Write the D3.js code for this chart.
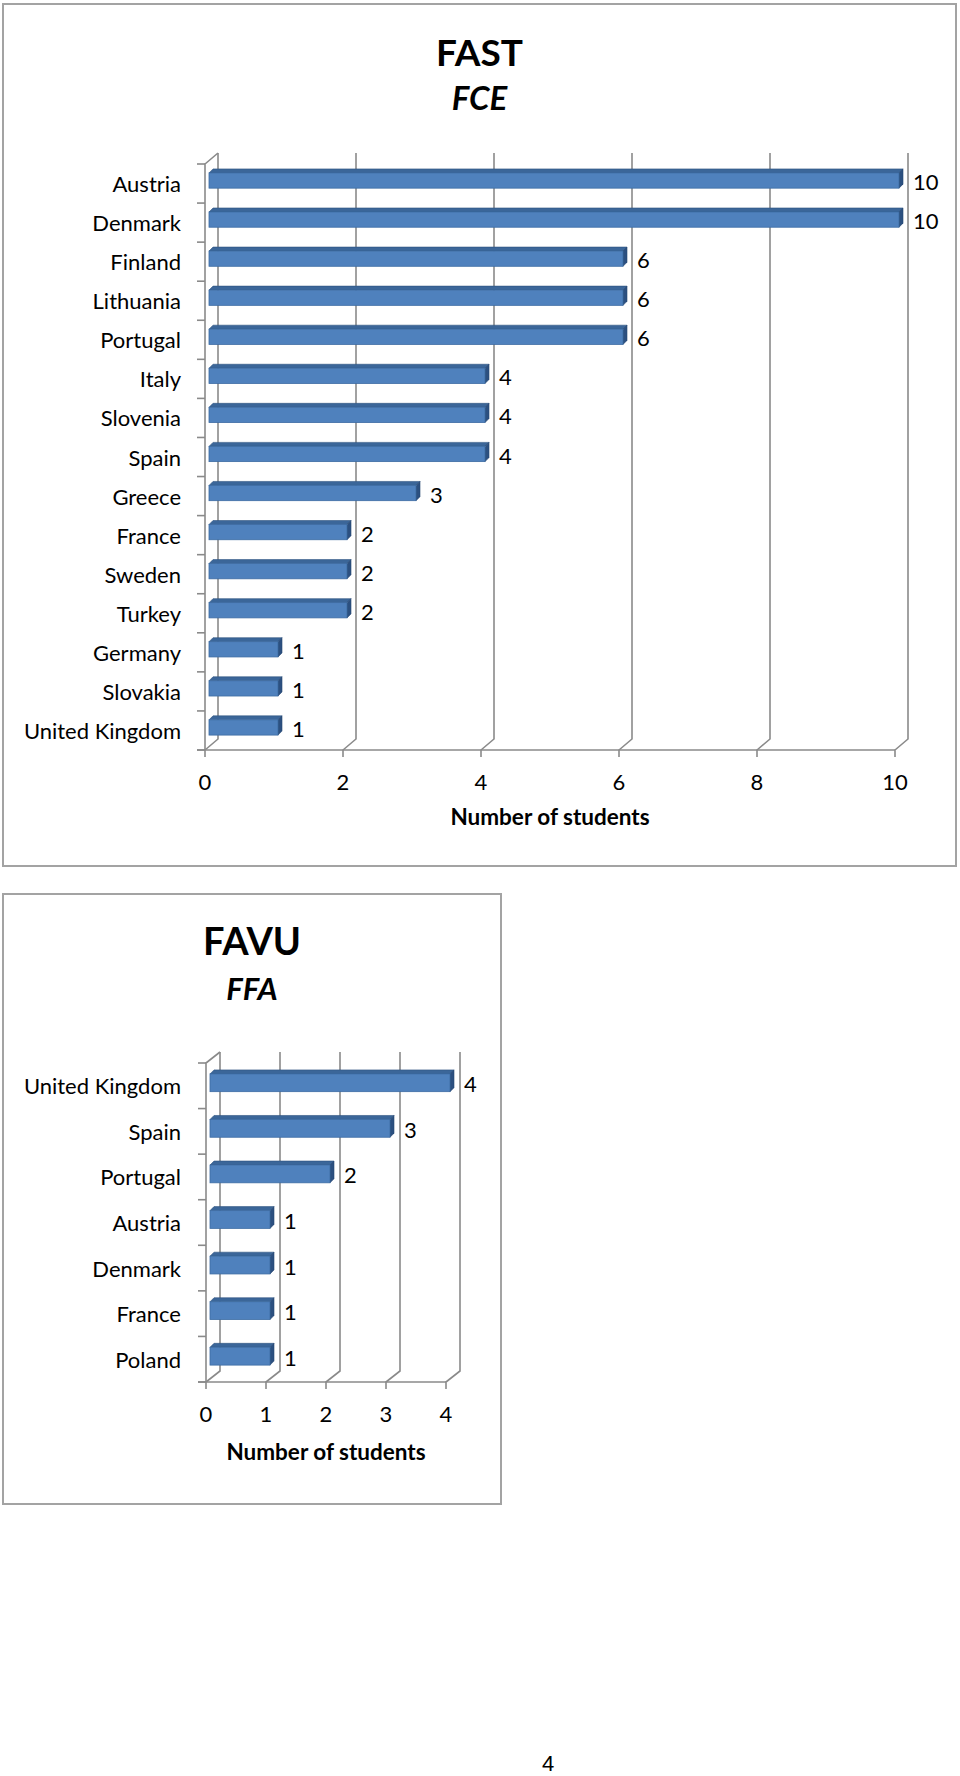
<!DOCTYPE html>
<html>
<head>
<meta charset="utf-8">
<script src="https://cdn.jsdelivr.net/npm/d3@7"></script>
<style>
  html, body { margin: 0; padding: 0; background: #fff; }
  svg { display: block; }
  text { font-family: Lato, "Open Sans", sans-serif; fill: #000; }
</style>
</head>
<body>
<svg id="chart" width="960" height="1776"></svg>
<script>
// ---------- DATA ----------
const fastCategories = ["Austria", "Denmark", "Finland", "Lithuania", "Portugal", "Italy", "Slovenia", "Spain", "Greece", "France", "Sweden", "Turkey", "Germany", "Slovakia", "United Kingdom"];
const fastValues = [10, 10, 6, 6, 6, 4, 4, 4, 3, 2, 2, 2, 1, 1, 1];
const fastTicks = [0, 2, 4, 6, 8, 10];
const fastTitle = "FAST";
const fastSubtitle = "FCE";

const favuCategories = ["United Kingdom", "Spain", "Portugal", "Austria", "Denmark", "France", "Poland"];
const favuValues = [4, 3, 2, 1, 1, 1, 1];
const favuTicks = [0, 1, 2, 3, 4];
const favuTitle = "FAVU";
const favuSubtitle = "FFA";

const axisTitle = "Number of students";
const pageNumber = "4";

// ---------- DRAW ----------
const svg = d3.select("#chart");

function drawChart(cfg) {
  const g = svg.append("g");
  const L = cfg.layout;
  // outer box
  g.append("rect")
    .attr("x", L.box[0]).attr("y", L.box[1])
    .attr("width", L.box[2] - L.box[0]).attr("height", L.box[3] - L.box[1])
    .attr("fill", "#fff").attr("stroke", "#a3a3a3").attr("stroke-width", 2);

  const cx = (L.box[0] + L.box[2]) / 2;
  g.append("text").attr("x", cx).attr("y", L.titleY)
    .attr("text-anchor", "middle").attr("dominant-baseline", "central")
    .attr("font-weight", "bold").attr("font-size", L.titleSize).text(cfg.title);
  g.append("text").attr("x", cx).attr("y", L.subY)
    .attr("text-anchor", "middle").attr("dominant-baseline", "central")
    .attr("font-weight", "bold").attr("font-style", "italic").attr("font-size", L.subSize).text(cfg.subtitle);

  const x = d3.scaleLinear().domain([0, d3.max(cfg.ticks)]).range(L.xRange);
  const y = d3.scaleBand().domain(cfg.categories).range(L.yRange).paddingInner(0).paddingOuter(0);
  const [dx, dy] = L.depth;
  const x0 = x(0), yTop = L.yRange[0], yFloor = L.yRange[1];
  const grid = "#8a8a8a";

  // back wall gridlines + floor diagonals + ticks
  cfg.ticks.forEach(t => {
    const xt = x(t);
    g.append("path")
      .attr("d", `M${xt + dx},${yTop + dy} L${xt + dx},${yFloor + dy} L${xt},${yFloor} L${xt},${yFloor + 7}`)
      .attr("fill", "none").attr("stroke", grid).attr("stroke-width", 1.6);
    g.append("text").attr("x", xt).attr("y", L.tickLabelY)
      .attr("text-anchor", "middle").attr("dominant-baseline", "central")
      .attr("font-size", L.fontSize).text(t);
  });
  // left wall
  g.append("path")
    .attr("d", `M${x0},${yFloor} L${x0},${yTop} L${x0 + dx},${yTop + dy}`)
    .attr("fill", "none").attr("stroke", grid).attr("stroke-width", 1.6);
  // floor front
  g.append("line").attr("x1", x0 - 8).attr("x2", x(d3.max(cfg.ticks)))
    .attr("y1", yFloor).attr("y2", yFloor).attr("stroke", grid).attr("stroke-width", 1.6);
  // category ticks
  const bounds = cfg.categories.map(c => y(c)).concat([yFloor]);
  bounds.forEach(b => {
    g.append("line").attr("x1", x0 - 8).attr("x2", x0).attr("y1", b).attr("y2", b)
      .attr("stroke", grid).attr("stroke-width", 1.6);
  });

  // bars
  const bh = y.bandwidth() * L.barFrac;
  const ox = 4, oy = -3, bd = 4;
  cfg.categories.forEach((c, i) => {
    const v = cfg.values[i];
    const yc = y(c) + y.bandwidth() / 2 + oy;
    const xl = x0 + ox, xr = x(v) + ox;
    const yt = yc - bh / 2, yb = yc + bh / 2;
    // top face
    g.append("path").attr("d", `M${xl},${yt} L${xl + bd},${yt - bd} L${xr + bd},${yt - bd} L${xr},${yt} Z`)
      .attr("fill", "#3b6699").attr("stroke", "#2e5280").attr("stroke-width", 0.6);
    // side face
    g.append("path").attr("d", `M${xr},${yt} L${xr + bd},${yt - bd} L${xr + bd},${yb - bd} L${xr},${yb} Z`)
      .attr("fill", "#2c5080").attr("stroke", "#264670").attr("stroke-width", 0.6);
    // front face
    g.append("rect").attr("x", xl).attr("y", yt).attr("width", xr - xl).attr("height", bh)
      .attr("fill", "#4f81bd").attr("stroke", "#3d6ca3").attr("stroke-width", 0.8);
    // value label
    g.append("text").attr("x", x(v) + L.labelGap).attr("y", yc + 1)
      .attr("dominant-baseline", "central").attr("font-size", L.fontSize).text(v);
    // category label
    g.append("text").attr("x", L.catX).attr("y", y(c) + y.bandwidth() / 2)
      .attr("text-anchor", "end").attr("dominant-baseline", "central")
      .attr("font-size", L.fontSize).text(c);
  });

  g.append("text").attr("x", (L.xRange[0] + L.xRange[1]) / 2).attr("y", L.axisTitleY)
    .attr("text-anchor", "middle").attr("dominant-baseline", "central")
    .attr("font-weight", "bold").attr("font-size", L.axisTitleSize).text(axisTitle);
}

drawChart({
  categories: fastCategories, values: fastValues, ticks: fastTicks,
  title: fastTitle, subtitle: fastSubtitle,
  layout: {
    box: [3, 4, 956, 866], titleY: 51, subY: 97, titleSize: 37, subSize: 33,
    xRange: [205, 895], yRange: [164, 750], depth: [13, -11],
    barFrac: 0.39, labelGap: 18, catX: 181, fontSize: 22,
    tickLabelY: 781, axisTitleY: 816, axisTitleSize: 22.5
  }
});

drawChart({
  categories: favuCategories, values: favuValues, ticks: favuTicks,
  title: favuTitle, subtitle: favuSubtitle,
  layout: {
    box: [3, 894, 501, 1504], titleY: 940, subY: 988, titleSize: 38, subSize: 31,
    xRange: [206, 446], yRange: [1063, 1382], depth: [14, -11],
    barFrac: 0.39, labelGap: 18, catX: 181, fontSize: 22,
    tickLabelY: 1413, axisTitleY: 1451, axisTitleSize: 22.5
  }
});

svg.append("text").attr("x", 548).attr("y", 1763)
  .attr("text-anchor", "middle").attr("dominant-baseline", "central")
  .style("font-family", "'Liberation Sans', Arial, sans-serif")
  .attr("font-size", 22).text(pageNumber);
</script>
</body>
</html>
